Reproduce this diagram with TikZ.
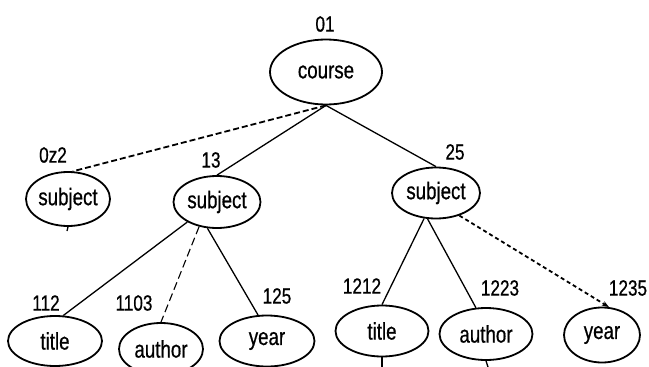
\documentclass[tikz,border=0pt]{standalone}
\usepackage{fontspec}
\setmainfont{Liberation Sans}
\newfontfamily\wordfont[FakeStretch=0.78, FakeBold=0.6]{Liberation Sans}
\newfontfamily\numfont[FakeStretch=0.78, FakeBold=0.6]{Liberation Sans}
\usetikzlibrary{arrows.meta,shapes.geometric}
\tikzset{
  treenode/.style={draw=black, line width=1.8pt, ellipse, inner sep=0pt, font=\wordfont\fontsize{24}{24}\selectfont},
  idlabel/.style={inner sep=0pt, font=\numfont\fontsize{22}{22}\selectfont},
  solidlink/.style={line width=1.3pt, draw=black},
  dashlink/.style={line width=1.8pt, draw=black, dash pattern=on 6pt off 3pt},
  thinlink/.style={line width=1.1pt, draw=black, dash pattern=on 8pt off 4pt},
  stub/.style={line width=1.3pt, draw=black}
}

\begin{document}
\begin{tikzpicture}[x=1pt, y=-1pt]
  \clip (0,0) rectangle (649,367);
  % element nodes
  \node[treenode, minimum width=112pt, minimum height=65pt] (course) at (326,72) {course};
  \node[treenode, minimum width=84pt, minimum height=54pt] (sub0z2) at (68,199) {subject};
  \node[treenode, minimum width=87pt, minimum height=52pt] (sub13) at (217,202) {subject};
  \node[treenode, minimum width=88pt, minimum height=51pt] (sub25) at (436,193) {subject};
  \node[treenode, minimum width=94pt, minimum height=50pt] (title112) at (55,341) {title};
  \node[treenode, minimum width=84pt, minimum height=52pt] (author1103) at (161,349) {author};
  \node[treenode, minimum width=95pt, minimum height=51pt] (year125) at (267,341) {year};
  \node[treenode, minimum width=93pt, minimum height=51pt] (title1212) at (382,331) {title};
  \node[treenode, minimum width=93pt, minimum height=52pt] (author1223) at (486,334) {author};
  \node[treenode, minimum width=76pt, minimum height=55pt] (year1235) at (602,335) {year};
  % identifiers
  \node[idlabel] (l01) at (325,24) {01};
  \node[idlabel] (l0z2) at (53,155) {0z2};
  \node[idlabel] (l13) at (211,160) {13};
  \node[idlabel] (l25) at (455,152) {25};
  \node[idlabel] (l112) at (46,303) {112};
  \node[idlabel] (l1103) at (134,303) {1103};
  \node[idlabel] (l125) at (277,296) {125};
  \node[idlabel] (l1212) at (362,286) {1212};
  \node[idlabel] (l1223) at (500,288) {1223};
  \node[idlabel] (l1235) at (628,288) {1235};
  % links
  \draw[dashlink] (course.south) -- (sub0z2.80);
  \draw[solidlink] (course.south) -- (sub13.north);
  \draw[solidlink] (course.south) -- (sub25.north);
  \draw[solidlink] (sub13.214) -- (title112.72);
  \draw[thinlink] (sub13.234) -- (author1103.north);
  \draw[solidlink] (sub13.250) -- (year125.109);
  \draw[solidlink] (sub25.245) -- (title1212.north);
  \draw[solidlink] (sub25.252) -- (author1223.111);
  \draw[dashlink, dash pattern=on 4pt off 3pt, -{Stealth[length=7pt, width=5pt]}] (sub25.316) -- (year1235.76);
  % small stubs below
  \coordinate (e0z2) at (67,231);
  \coordinate (e1212) at (382,367);
  \coordinate (e1223) at (488,367);
  \draw[stub] (sub0z2.south) -- (e0z2);
  \draw[stub] (title1212.south) -- (e1212);
  \draw[stub] (author1223.south) -- (e1223);
\end{tikzpicture}
\end{document}
